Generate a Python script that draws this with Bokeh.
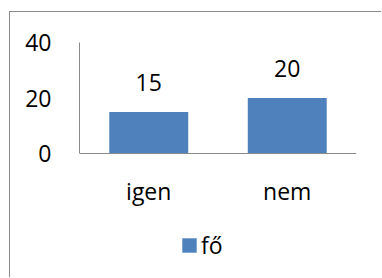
from bokeh.plotting import figure
from bokeh.models import ColumnDataSource, LabelSet, FixedTicker, Range1d
from bokeh.core.properties import value
from bokeh.embed import file_html
from bokeh.resources import INLINE

categories = ["igen", "nem"]
values = [15, 20]
series_name = "fő"
y_ticks = [0, 20, 40]

FONT = "Open Sans"
FS = "23px"
GRAY = "#8a8a8a"
BLUE = "#4F81BD"

# layout (pixels)
W, H = 372, 266
LEFT, RIGHT, TOP, BOTTOM = 69, 26, 30, 6
ZERO_PX = 141            # canvas y of value 0
Y_MAX = 40
px_per_unit = (ZERO_PX - TOP) / Y_MAX
y_min = -((H - BOTTOM) - ZERO_PX) / px_per_unit

src = ColumnDataSource(dict(cat=categories, val=values, lbl=[str(v) for v in values]))

p = figure(x_range=categories, y_range=Range1d(y_min, Y_MAX), width=W, height=H,
           output_backend="svg", toolbar_location=None,
           min_border_left=LEFT, min_border_right=RIGHT, min_border_top=TOP, min_border_bottom=BOTTOM,
           styles={"margin-left": "9px", "margin-top": "11px",
                   "border-top": f"1px solid {GRAY}", "border-left": f"1px solid {GRAY}"})
p.x_range.range_padding = 0
p.outline_line_color = None
p.grid.visible = False

p.vbar(x="cat", top="val", bottom=0, width=0.57, source=src, fill_color=BLUE, line_color=None,
       legend_label=series_name)

labels = LabelSet(x="cat", y="val", text="lbl", source=src, y_offset=21,
                  text_align="center", text_baseline="alphabetic",
                  text_font=value(FONT), text_font_size=FS, text_color="black")
p.add_layout(labels)

for ax in (p.xaxis[0], p.yaxis[0]):
    ax.axis_line_color = GRAY
    ax.axis_line_width = 1
    ax.major_tick_line_color = None
    ax.minor_tick_line_color = None
    ax.major_tick_out = 0
    ax.major_tick_in = 0
    ax.minor_tick_out = 0
    ax.major_label_text_font = FONT
    ax.major_label_text_font_size = FS
    ax.major_label_text_color = "black"

p.xaxis[0].fixed_location = 0
p.xaxis[0].major_label_standoff = 21
p.yaxis[0].major_label_standoff = 28
p.yaxis[0].ticker = FixedTicker(ticks=y_ticks)
p.yaxis[0].bounds = (0, Y_MAX)

lg = p.legend[0]
lg.location = (101, 11)
lg.glyph_width = 18
lg.glyph_height = 18
lg.label_height = 18
lg.label_standoff = 3
lg.padding = 0
lg.margin = 0
lg.spacing = 0
lg.border_line_color = None
lg.background_fill_alpha = 0
lg.label_text_font = FONT
lg.label_text_font_size = FS
lg.label_text_color = "black"

open("out.html", "w").write(file_html(p, INLINE))
